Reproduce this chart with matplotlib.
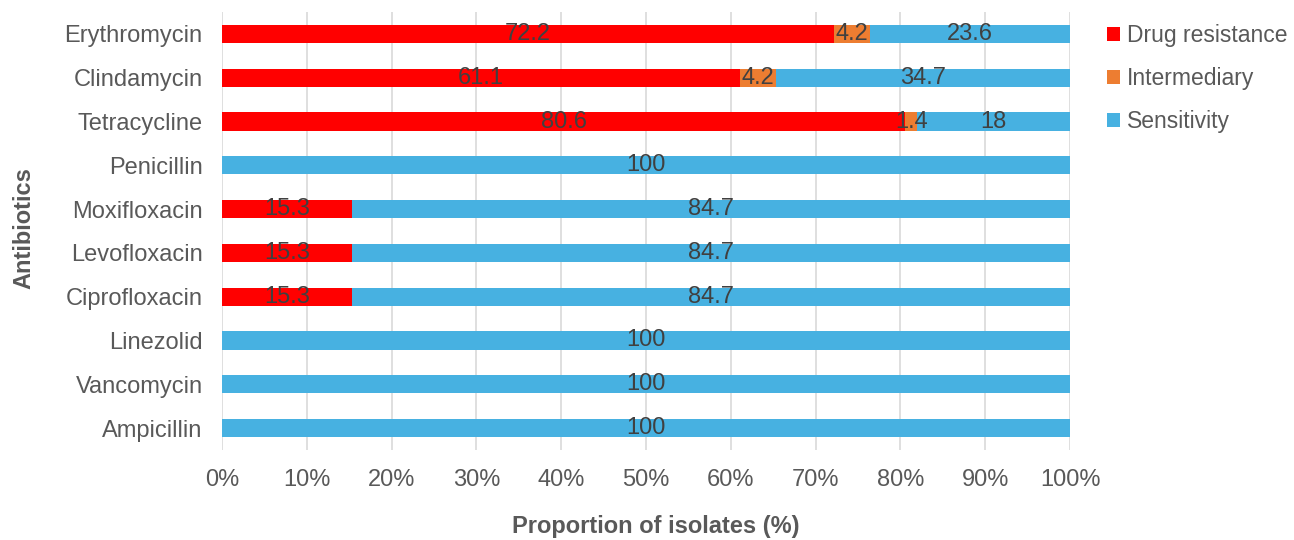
import matplotlib
matplotlib.use("Agg")
import matplotlib.pyplot as plt
from matplotlib.patches import Patch

antibiotics = ["Erythromycin", "Clindamycin", "Tetracycline", "Penicillin", "Moxifloxacin",
               "Levofloxacin", "Ciprofloxacin", "Linezolid", "Vancomycin", "Ampicillin"]
resistance = [72.2, 61.1, 80.6, 0, 15.3, 15.3, 15.3, 0, 0, 0]
intermediary = [4.2, 4.2, 1.4, 0, 0, 0, 0, 0, 0, 0]
sensitivity = [23.6, 34.7, 18, 100, 84.7, 84.7, 84.7, 100, 100, 100]
series_names = ["Drug resistance", "Intermediary", "Sensitivity"]
colors = ["#FF0000", "#ED7D31", "#47B1E1"]
xticks = [0, 10, 20, 30, 40, 50, 60, 70, 80, 90, 100]

FS = 17
plt.rcParams['font.family'] = ['Liberation Sans', 'DejaVu Sans']
fig = plt.figure(figsize=(12.94, 5.4), dpi=100)
ax = fig.add_axes([222/1294, 1-450/540, 848/1294, 438/540])

n = len(antibiotics)
ypos = [n - 1 - i for i in range(n)]
left = [0]*n
for vals, name, c in zip([resistance, intermediary, sensitivity], series_names, colors):
    ax.barh(ypos, vals, left=left, height=0.42, color=c, label=name, zorder=3)
    for y, v, l in zip(ypos, vals, left):
        if v > 0:
            ax.text(l + v/2, y, f"{v:g}", ha='center', va='center', fontsize=FS,
                    color='#404040', zorder=4)
    left = [a + b for a, b in zip(left, vals)]

ax.set_xlim(0, 100)
ax.set_ylim(-0.5, n - 0.5)
ax.set_yticks(ypos)
ax.set_yticklabels(antibiotics, fontsize=FS, color='#595959')
ax.set_xticks(xticks)
ax.set_xticklabels([f"{t}%" for t in xticks], fontsize=FS, color='#595959')
ax.tick_params(axis='both', length=0)
ax.tick_params(axis='x', pad=14)
ax.tick_params(axis='y', pad=14)
for s in ax.spines.values():
    s.set_visible(False)
ax.grid(axis='x', color='#D9D9D9', linewidth=1.2, zorder=0)
ax.set_axisbelow(True)

fig.text(656/1294, 1-527/540, "Proportion of isolates (%)", ha='center', va='center',
         fontsize=FS, fontweight='bold', color='#595959')
fig.text(24/1294, 1-228/540, "Antibiotics", ha='center', va='center', rotation=90,
         fontsize=FS, fontweight='bold', color='#595959')

handles = [Patch(facecolor=c, edgecolor='none') for c in colors]
leg = fig.legend(handles, series_names, loc='upper left', bbox_to_anchor=(1107/1294, 1-24/540),
                 frameon=False, fontsize=16.5, handlelength=0.57, handleheight=0.57,
                 handletextpad=0.3, labelspacing=0.88, borderaxespad=0, borderpad=0)
for t in leg.get_texts():
    t.set_color('#595959')

fig.savefig("out.png", dpi=100)
